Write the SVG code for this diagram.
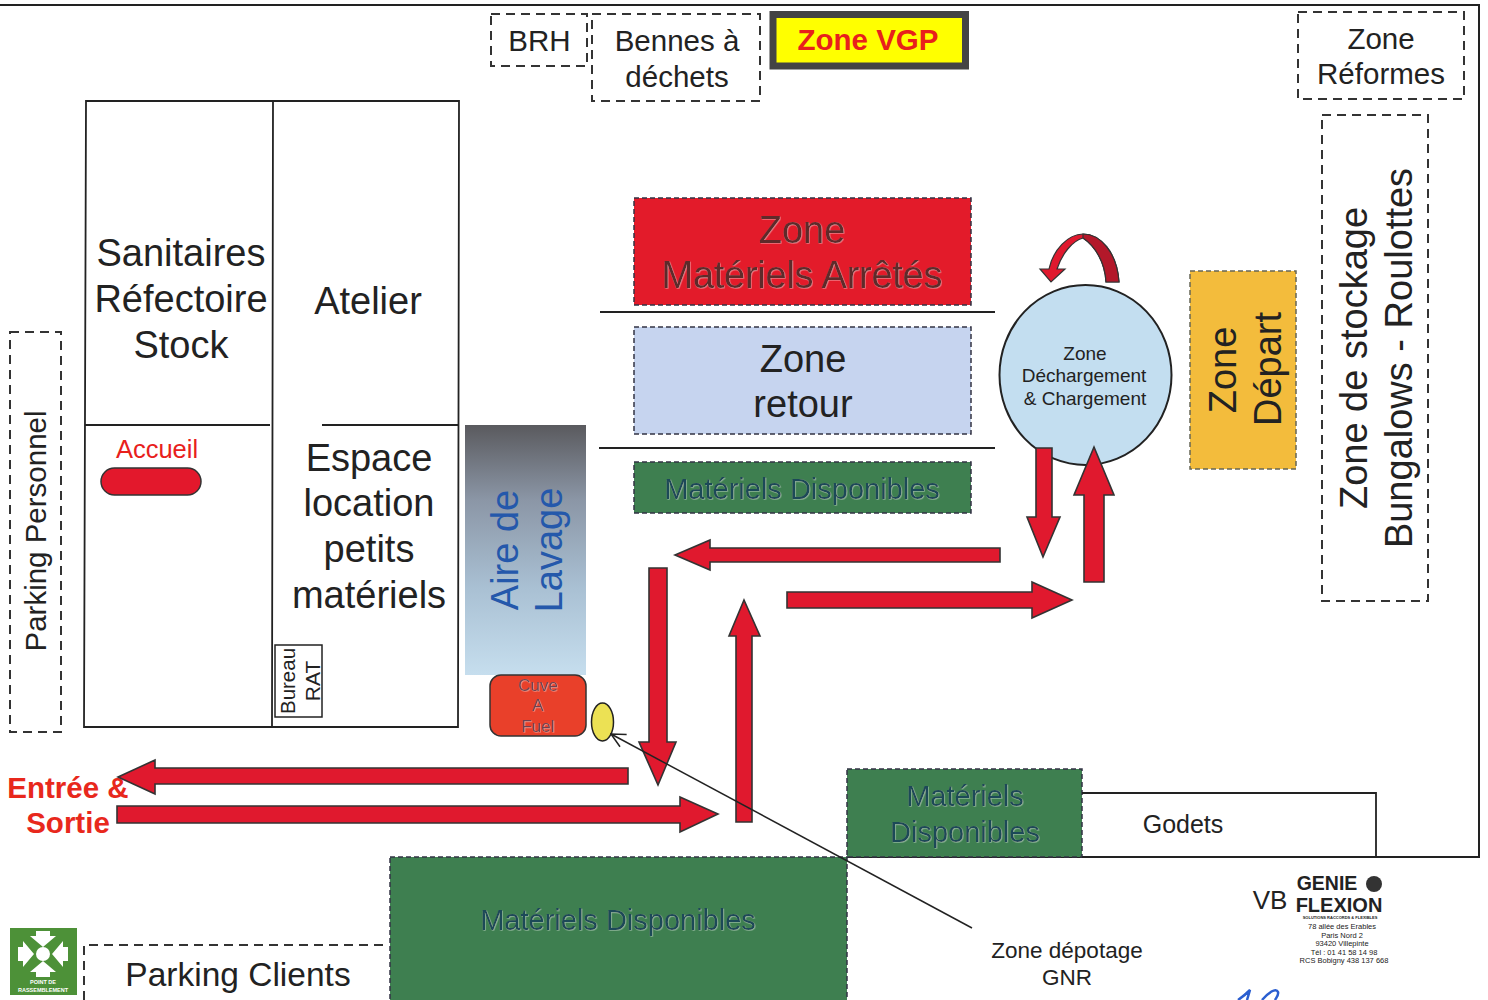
<svg xmlns="http://www.w3.org/2000/svg" width="1488" height="1000" viewBox="0 0 1488 1000">
<style>
text{font-family:"Liberation Sans",Arial,sans-serif;fill:#222;text-anchor:middle}
.dash{fill:#fff;stroke:#333;stroke-width:2;stroke-dasharray:9 6}
.line{fill:none;stroke:#222;stroke-width:1.8}
.arrow{fill:#e0192e;stroke:#333;stroke-width:1.6}
.zd{stroke:#334;stroke-width:1.5;stroke-dasharray:5 3}
.soft{filter:url(#halo)}
.green{fill:#1d4a58}
.t38{font-size:38px}.t30{font-size:29.5px}.t29{font-size:29px}
</style>
<defs>
<linearGradient id="wash" x1="0" y1="0" x2="0" y2="1"><stop offset="0" stop-color="#5a5a5e"/><stop offset=".3" stop-color="#8b96a6"/><stop offset=".65" stop-color="#a9c0d3"/><stop offset="1" stop-color="#c6deee"/></linearGradient>
<filter id="halo" x="-10%" y="-10%" width="120%" height="120%"><feDropShadow dx=".7" dy=".7" stdDeviation=".4" flood-color="#fff" flood-opacity=".45"/></filter>
<marker id="open" markerWidth="16" markerHeight="16" refX="15" refY="8" orient="auto" markerUnits="userSpaceOnUse"><path d="M1,1 L15,8 L1,15" fill="none" stroke="#222" stroke-width="1.5"/></marker>
</defs>
<rect width="1488" height="1000" fill="#fff"/>
<g id="site-boundary"><path class="line" style="stroke-width:2" d="M0,5 H1479 V857 H847"/></g>

<g id="building"><path class="line" d="M86,101 H459 L458,727 H84 Z M273,101 L272,727 M85,425 H270 M322,425 H458"/></g>
<g id="sanitaires"><text class="t38" x="181" y="266">Sanitaires</text><text class="t38" x="181" y="312">Réfectoire</text><text class="t38" x="181" y="358">Stock</text></g>
<g id="atelier"><text class="t38" x="368" y="314">Atelier</text></g>
<g id="espace-location"><text class="t38" x="369" y="471">Espace</text><text class="t38" x="369" y="516">location</text><text class="t38" x="369" y="562">petits</text><text class="t38" x="369" y="608">matériels</text></g>
<g id="accueil"><text x="157" y="458" font-size="25.500" style="fill:#e8201c">Accueil</text><rect x="101" y="468" width="100" height="27" rx="13.500" fill="#e3182c" stroke="#333" stroke-width="1.500"/></g>
<g id="bureau-rat"><rect x="275" y="645" width="47" height="72" fill="#fff" stroke="#222" stroke-width="1.500"/><text font-size="20.500" transform="translate(295,681) rotate(-90)">Bureau</text><text font-size="21" transform="translate(320,681) rotate(-90)">RAT</text></g>

<g id="parking-personnel"><rect class="dash" x="10" y="332" width="51" height="400"/><text class="t30" transform="translate(46,531) rotate(-90)">Parking Personnel</text></g>
<g id="brh"><rect class="dash" x="491" y="14" width="96" height="52"/><text class="t30" x="539.500" y="51">BRH</text></g>
<g id="bennes"><rect class="dash" x="592" y="14" width="168" height="87"/><text class="t30" x="677" y="51">Bennes à</text><text class="t30" x="677" y="87">déchets</text></g>
<g id="zone-vgp"><rect x="773" y="14.500" width="192.500" height="51.500" fill="#ff0" stroke="#444" stroke-width="7"/><text class="t30" x="868" y="50" font-weight="700" style="fill:#e8201c">Zone VGP</text></g>
<g id="zone-reformes"><rect class="dash" x="1298" y="12" width="166" height="87"/><text class="t30" x="1381" y="49">Zone</text><text class="t30" x="1381" y="84">Réformes</text></g>
<g id="zone-stockage"><rect class="dash" x="1322" y="115" width="106" height="486"/><text font-size="38" transform="translate(1367,358) rotate(-90)">Zone de stockage</text><text font-size="38" transform="translate(1412,358) rotate(-90)">Bungalows - Roulottes</text></g>

<g id="zone-arretes"><rect class="zd" x="634" y="198" width="337" height="107" fill="#e31b2a"/><g class="soft"><text class="t38" x="802" y="243" style="fill:#5f2b2b">Zone</text><text class="t38" x="802" y="288" textLength="281" style="fill:#5f2b2b">Matériels Arrêtés</text></g></g>
<g id="zone-retour"><rect class="zd" x="634" y="327" width="337" height="107" fill="#c6d4ef"/><text class="t38" x="803" y="372">Zone</text><text class="t38" x="803" y="417">retour</text></g>
<g id="disponibles-1"><rect class="zd" x="634" y="462" width="337" height="51" fill="#3e7f50"/><text class="t29 soft green" x="802" y="499">Matériels Disponibles</text></g>
<g id="separators"><path class="line" d="M600,312 H995 M599,448 H995"/></g>
<g id="zone-circle"><ellipse cx="1085.500" cy="375" rx="86" ry="90" fill="#c3def0" stroke="#222" stroke-width="2"/><text font-size="19" x="1085" y="360">Zone</text><text font-size="19" x="1084" y="382">Déchargement</text><text font-size="19" x="1085" y="405">&amp; Chargement</text></g>
<g id="zone-depart"><rect x="1190" y="271" width="106" height="198" fill="#f3bc3c" stroke="#665" stroke-width="1.500" stroke-dasharray="5 3"/><text font-size="38" transform="translate(1236,370) rotate(-90)">Zone</text><text font-size="38" transform="translate(1281,369) rotate(-90)">Départ</text></g>
<g id="aire-lavage"><rect x="465" y="425" width="121" height="250" fill="url(#wash)"/><text class="t38" transform="translate(518,550) rotate(-90)" style="fill:#2458ab">Aire de</text><text class="t38" transform="translate(562,550) rotate(-90)" style="fill:#2458ab">Lavage</text></g>
<g id="cuve-fuel"><rect x="490" y="675" width="96" height="61" rx="11" fill="#e9402a" stroke="#333" stroke-width="1.500"/><g class="soft" font-size="17"><text x="538" y="691" style="fill:#6e4252">Cuve</text><text x="538" y="711" style="fill:#6e4252">A</text><text x="538" y="732" style="fill:#6e4252">Fuel</text></g></g>
<g id="depotage-point"><ellipse cx="602.500" cy="722" rx="11" ry="19" fill="#ece154" stroke="#222" stroke-width="1.500"/></g>
<g id="disponibles-2"><rect class="zd" x="847" y="769" width="235" height="88" fill="#3e7f50"/><text class="t29 soft green" x="965" y="806">Matériels</text><text class="t29 soft green" x="965" y="842">Disponibles</text></g>
<g id="godets"><path class="line" d="M1082,793 H1376 V857 M1082,857 H1376"/><text font-size="25" x="1183" y="833">Godets</text></g>
<g id="disponibles-3"><rect class="zd" x="390" y="857" width="457" height="150" fill="#3e7f50"/><text class="t29 soft green" x="618" y="930">Matériels Disponibles</text></g>
<g id="parking-clients"><path class="dash" style="fill:none" d="M84,1000 V945 H388"/><text x="238" y="986" font-size="33.500">Parking Clients</text></g>
<g id="entree-sortie"><text x="68" y="798" font-size="29.500" font-weight="700" style="fill:#e8281c">Entrée &amp;</text><text x="68" y="833" font-size="29.500" font-weight="700" style="fill:#e8281c">Sortie</text></g>
<g id="depotage-label"><text x="1067" y="958" font-size="22.500">Zone dépotage</text><text x="1067" y="985" font-size="22.500">GNR</text></g>

<g id="rassemblement">
<rect x="10" y="928" width="67" height="67" fill="#4d9138"/>
<g fill="#fff"><circle cx="43" cy="954" r="7"/><path d="M36,931 H50 V936 H56 L43,947 L30,936 H36 Z"/><path d="M36,977 H50 V972 H56 L43,961 L30,972 H36 Z"/><path d="M18,947 V961 H23 V967 L34,954 L23,941 V947 Z"/><path d="M68,947 V961 H63 V967 L52,954 L63,941 V947 Z"/></g>
<text x="43" y="984" font-size="5.500" font-weight="700" style="fill:#fff">POINT DE</text><text x="43" y="992" font-size="5.500" font-weight="700" style="fill:#fff">RASSEMBLEMENT</text>
</g>
<g id="logo">
<text x="1270" y="909" font-size="26">VB</text>
<text x="1327" y="890" font-size="19.500" font-weight="700">GENIE</text><circle cx="1374" cy="884" r="8" fill="#333"/>
<text x="1339" y="912" font-size="20" font-weight="700">FLEXION</text>
<text x="1340" y="919" font-size="4" font-weight="700">SOLUTIONS RACCORDS &amp; FLEXIBLES</text>
<text x="1342" y="929" font-size="7.500">78 allée des Erables</text><text x="1342" y="937.500" font-size="7.500">Paris Nord 2</text><text x="1342" y="946" font-size="7.500">93420 Villepinte</text><text x="1344" y="954.500" font-size="7.500">Tél : 01 41 58 14 98</text><text x="1344" y="963" font-size="7.500">RCS Bobigny 438 137 668</text>
</g>
<g id="signature"><path d="M1238,1000 C1244,996 1248,992 1250,990 L1247,1000 M1262,1000 C1268,993 1276,987 1278,992 C1279,995 1276,998 1275,1000" fill="none" stroke="#2b5fd0" stroke-width="2.500"/></g>

<g id="connectors">
<path class="arrow" d="M1000,548 V562 H710 V570 L675,555 L710,540 V548 Z"/>
<path class="arrow" d="M787,592 H1032 V582 L1072,600 L1032,618 V608 H787 Z"/>
<path class="arrow" d="M1084,582 V495 H1074 L1094,447 L1114,495 H1104 V582 Z"/>
<path class="arrow" d="M1036,448 H1052 V517 H1060 L1043,557 L1027,517 H1036 Z"/>
<path class="arrow" d="M649,568 H667 V742 H676 L658,785 L639,742 H649 Z"/>
<path class="arrow" d="M736,822 V636 H729 L744,600 L760,636 H752 V822 Z"/>
<path class="arrow" d="M628,768 V784 H155 V794 L118,777 L155,760 V768 Z"/>
<path class="arrow" d="M117,806 H680 V797 L718,814 L680,832 V823 H117 Z"/>
<path class="arrow" style="stroke-width:1.200" d="M1119,282 C1117,252 1100,234 1083,234 C1068,234 1053,250 1049,269 H1040 L1051,282 L1065,269 H1057 C1062,254 1072,241 1083,238 C1095,246 1105,262 1106,282 Z"/>
<path d="M1119,282 C1117,252 1100,234 1083,234 L1083,238 C1095,246 1105,262 1106,282 Z" fill="#b3182a" stroke="#333" stroke-width="1.200"/>
<path d="M972,928 L611,734" fill="none" stroke="#222" stroke-width="1.500" marker-end="url(#open)"/>
</g>
</svg>
